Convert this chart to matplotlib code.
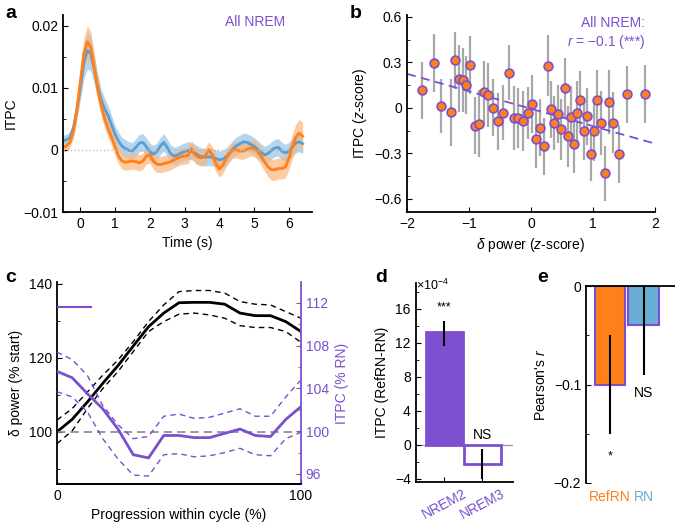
import matplotlib
matplotlib.use("Agg")
import matplotlib.pyplot as plt
import numpy as np

plt.rcParams['font.family'] = ['Liberation Sans', 'DejaVu Sans']
plt.rcParams['font.size'] = 10
plt.rcParams['mathtext.fontset'] = 'custom'
plt.rcParams['mathtext.rm'] = 'Liberation Sans'
plt.rcParams['mathtext.it'] = 'Liberation Sans:italic'
plt.rcParams['xtick.direction'] = 'in'
plt.rcParams['ytick.direction'] = 'in'
plt.rcParams['axes.linewidth'] = 1.3

PURPLE = '#7b4fd0'
ORANGE = '#ff7f1a'
BLUE = '#5b9fd2'

# ---- panel a: ITPC time course (RefRN orange, RN blue)
time_s = np.round(np.arange(-0.5, 6.45, 0.1), 1)
itpc_refrn = [0.0004, 0.0006, 0.0012, 0.0030, 0.0065,
              0.0110, 0.0155, 0.0174, 0.0165, 0.0132, 0.0098, 0.0072, 0.0050, 0.0034, 0.0020,
              0.0005, -0.0010, -0.0018, -0.0020, -0.0019, -0.0018, -0.0019, -0.0021, -0.0018, -0.0010,
              -0.0008, -0.0018, -0.0023, -0.0024, -0.0022, -0.0021, -0.0019, -0.0016, -0.0013, -0.0011,
              -0.0010, -0.0009, 0.0002, -0.0008, -0.0012, -0.0013, -0.0009, 0.0000, -0.0008, -0.0022,
              -0.0031, -0.0025, -0.0014, -0.0005, 0.0000, 0.0000, -0.0002, -0.0002, 0.0001, 0.0003,
              0.0002, -0.0003, -0.0010, -0.0019, -0.0027, -0.0032, -0.0032, -0.0030, -0.0030, -0.0028,
              -0.0015, 0.0005, 0.0020, 0.0027, 0.0022]
itpc_refrn_err = ([0.0008, 0.0008, 0.0009, 0.0012, 0.0016,
                   0.0020, 0.0024, 0.0026, 0.0025, 0.0022, 0.0019, 0.0017, 0.0016, 0.0015, 0.0014,
                   0.0014] + [0.0013] * 41 +
                  [0.0014, 0.0015, 0.0016, 0.0017, 0.0017, 0.0017, 0.0017, 0.0017,
                   0.0018, 0.0020, 0.0021, 0.0022, 0.0022])
itpc_rn = [0.0015, 0.0016, 0.0020, 0.0035, 0.0065,
           0.0100, 0.0140, 0.0160, 0.0155, 0.0130, 0.0102, 0.0080, 0.0066, 0.0055, 0.0040,
           0.0025, 0.0014, 0.0006, 0.0002, -0.0001, -0.0002, 0.0004, 0.0011, 0.0012, 0.0005,
           -0.0003, -0.0007, -0.0003, 0.0006, 0.0012, 0.0004, -0.0006, -0.0010, -0.0008, -0.0005,
           -0.0003, -0.0001, -0.0002, -0.0005, -0.0009, -0.0011, -0.0012, -0.0011, -0.0012, -0.0014,
           -0.0016, -0.0015, -0.0011, -0.0005, 0.0002, 0.0007, 0.0010, 0.0013, 0.0012, 0.0009,
           0.0006, 0.0001, -0.0004, -0.0008, -0.0006, -0.0001, 0.0003, 0.0004, -0.0002, -0.0005,
           -0.0002, 0.0004, 0.0011, 0.0013, 0.0010]
itpc_rn_err = ([0.0009, 0.0009, 0.0010, 0.0012, 0.0016,
                0.0020, 0.0026, 0.0030, 0.0028, 0.0024, 0.0020, 0.0018, 0.0017, 0.0016, 0.0015] +
               [0.0014] * 52 + [0.0016, 0.0016, 0.0016])

# ---- panel b: binned ITPC vs delta power
delta_z = [-1.752, -1.564, -1.445, -1.284, -1.230, -1.166, -1.101, -1.052, -0.988, -0.902,
           -0.832, -0.762, -0.686, -0.606, -0.525, -0.455, -0.353, -0.277, -0.202, -0.127,
           -0.056, 0.013, 0.073, 0.143, 0.207, 0.272, 0.315, 0.363, 0.433, 0.476,
           0.546, 0.589, 0.643, 0.697, 0.740, 0.789, 0.848, 0.907, 0.972, 1.020,
           1.069, 1.123, 1.198, 1.257, 1.327, 1.424, 1.548, 1.833]
itpc_z = [0.116, 0.296, 0.014, -0.028, 0.314, 0.193, 0.186, 0.151, 0.285, -0.116,
          -0.103, 0.102, 0.085, 0.003, -0.089, -0.030, 0.232, -0.067, -0.067, -0.085,
          -0.032, 0.028, -0.204, -0.129, -0.254, 0.279, -0.010, -0.100, -0.041, -0.142,
          0.131, -0.188, -0.058, -0.237, -0.032, 0.054, -0.151, -0.056, -0.303, -0.151,
          0.050, -0.098, -0.431, 0.041, -0.098, -0.303, 0.089, 0.093]
itpc_z_err = [0.19, 0.19, 0.18, 0.22, 0.19, 0.22, 0.21, 0.19, 0.19, 0.19,
              0.22, 0.21, 0.21, 0.19, 0.19, 0.18, 0.18, 0.21, 0.20, 0.20,
              0.17, 0.19, 0.19, 0.19, 0.19, 0.20, 0.19, 0.18, 0.19, 0.20,
              0.20, 0.20, 0.20, 0.19, 0.21, 0.19, 0.19, 0.19, 0.18, 0.20,
              0.20, 0.21, 0.18, 0.21, 0.20, 0.19, 0.19, 0.19]
fit_intercept = -0.005
fit_slope = -0.115

# ---- panel c: delta power and ITPC across the cycle
cycle_pct = [0, 6.25, 12.5, 18.75, 25, 31.25, 37.5, 43.75, 50,
             56.25, 62.5, 68.75, 75, 81.25, 87.5, 93.75, 100]
delta_pow = [100, 103.4, 108.1, 113.1, 117.9, 123.2, 128.4, 132.1, 134.9,
             135.0, 135.0, 134.5, 132.1, 131.4, 131.4, 129.8, 127.1]
delta_hi = [103.2, 106.3, 110.8, 115.3, 119.4, 124.4, 129.8, 134.3, 137.9,
            138.2, 138.2, 137.5, 135.2, 134.5, 134.3, 132.5, 130.7]
delta_lo = [96.8, 100.3, 106.3, 111.7, 116.3, 121.7, 127.1, 129.8, 131.8,
            132.1, 131.6, 130.7, 128.7, 128.2, 128.2, 127.1, 124.2]
itpc_rn_pct = [105.6, 105.0, 103.5, 102.1, 100.2, 97.8, 97.5, 99.6, 99.6,
               99.4, 99.4, 99.8, 100.2, 99.6, 99.5, 101.1, 102.3]
itpc_rn_hi = [107.4, 106.7, 105.2, 102.4, 100.6, 99.3, 99.5, 101.4, 101.6,
              101.2, 101.3, 101.7, 102.1, 101.4, 101.4, 103.2, 104.8]
itpc_rn_lo = [103.7, 103.2, 101.8, 99.3, 97.4, 95.9, 95.8, 97.8, 97.9,
              97.6, 97.7, 98.0, 98.4, 97.8, 97.7, 99.3, 99.9]
sig_bar_x = [0, 14]
sig_bar_y = 111.6

# ---- panel d: ITPC difference per stage (x1e-4)
stages = ['NREM2', 'NREM3']
itpc_diff = [13.25, -2.24]
itpc_diff_err = [1.45, 1.72]
diff_center = [13.1, -2.28]
stage_sig = ['***', 'NS']

# ---- panel e: Pearson r
conditions = ['RefRN', 'RN']
pearson_r = [-0.100, -0.040]
pearson_err = [0.050, 0.045]
pearson_center = [-0.100, -0.045]
cond_sig = ['*', 'NS']
cond_colors = [ORANGE, '#6aaed6']

W, H = 675, 527
fig = plt.figure(figsize=(W / 100, H / 100), dpi=100)


def box(l, r, t, b):
    return [l / W, 1 - b / H, (r - l) / W, (b - t) / H]


# a
ax = fig.add_axes(box(63, 312, 15, 212))
ax.fill_between(time_s, np.array(itpc_rn) - itpc_rn_err, np.array(itpc_rn) + itpc_rn_err,
                color='#9cc7e8', alpha=0.75, lw=0)
ax.fill_between(time_s, np.array(itpc_refrn) - itpc_refrn_err, np.array(itpc_refrn) + itpc_refrn_err,
                color='#fbb57a', alpha=0.7, lw=0)
ax.plot(time_s, itpc_rn, color=BLUE, lw=2)
ax.plot(time_s, itpc_refrn, color=ORANGE, lw=2)
ax.plot([-0.5, 6.4], [0, 0], color='#bbbbbb', ls=':', lw=1)
ax.set_xlim(-0.5, 6.67)
ax.set_ylim(-0.01, 0.0217)
ax.set_xticks(range(7))
ax.set_yticks([-0.01, 0, 0.01, 0.02])
ax.set_yticklabels(['\u22120.01', '0', '0.01', '0.02'])
ax.set_yticks([-0.005, 0.005, 0.015], minor=True)
ax.tick_params(which='minor', length=2)
ax.set_xlabel('Time (s)')
ax.set_ylabel('ITPC')
ax.spines[['top', 'right']].set_visible(False)
ax.text(0.771, 0.964, 'All NREM', color=PURPLE, transform=ax.transAxes, ha='center', va='center')

# b
ax = fig.add_axes(box(407, 655, 15, 212))
ax.errorbar(delta_z, itpc_z, yerr=itpc_z_err, fmt='none', ecolor='#a8a8a8', elinewidth=1.6, zorder=1)
ax.scatter(delta_z, itpc_z, s=40, color=ORANGE, edgecolor=PURPLE, linewidth=1.2, zorder=3)
xs = np.array([-2, 2])
ax.plot(xs, fit_intercept + fit_slope * xs, color=PURPLE, ls=(0, (5, 3)), lw=1.3, zorder=2)
ax.set_xlim(-2, 2)
ax.set_ylim(-0.686, 0.613)
ax.set_xticks([-2, -1, 0, 1, 2])
ax.set_xticklabels(['\u22122', '\u22121', '0', '1', '2'])
ax.set_yticks([-0.6, -0.3, 0, 0.3, 0.6])
ax.set_yticklabels(['\u22120.6', '\u22120.3', '0', '0.3', '0.6'])
ax.set_yticks([-0.45, -0.15, 0.15, 0.45], minor=True)
ax.tick_params(which='minor', length=2)
ax.set_xlabel(r'$\it{\delta}$ power ($\it{z}$-score)')
ax.set_ylabel(r'ITPC ($\it{z}$-score)')
ax.spines[['top', 'right']].set_visible(False)
ax.text(0.96, 0.958, 'All NREM:', color=PURPLE, transform=ax.transAxes, ha='right', va='center')
ax.text(0.96, 0.864, '$\\it{r}$ = \u22120.1 (***)', color=PURPLE,
        transform=ax.transAxes, ha='right', va='center')

# c
ax = fig.add_axes(box(57, 301, 282, 484))
ax2 = ax.twinx()
ax.plot(cycle_pct, delta_pow, color='black', lw=2)
ax.plot(cycle_pct, delta_hi, color='black', lw=1, ls=(0, (4, 3)))
ax.plot(cycle_pct, delta_lo, color='black', lw=1, ls=(0, (4, 3)))
ax.axhline(100, color='#888888', lw=1.2, ls=(0, (5, 3)))
ax2.plot(cycle_pct, itpc_rn_pct, color=PURPLE, lw=2)
ax2.plot(cycle_pct, itpc_rn_hi, color=PURPLE, lw=1, ls=(0, (4, 3)))
ax2.plot(cycle_pct, itpc_rn_lo, color=PURPLE, lw=1, ls=(0, (4, 3)))
ax2.plot(sig_bar_x, [sig_bar_y, sig_bar_y], color=PURPLE, lw=1.5)
ax.set_xlim(0, 100)
ax.set_ylim(85.9, 140.5)
ax2.set_ylim(95.06, 113.96)
ax.set_xticks([0, 100])
ax.set_yticks([100, 120, 140])
ax.set_yticks([90, 110, 130], minor=True)
ax2.set_yticks([96, 100, 104, 108, 112])
ax2.set_yticks([98, 102, 106, 110], minor=True)
ax.tick_params(which='minor', length=2)
ax2.tick_params(axis='y', which='both', colors=PURPLE)
ax2.tick_params(which='minor', length=2)
ax.set_xlabel('Progression within cycle (%)')
ax.set_ylabel('\u03b4 power (% start)')
ax2.set_ylabel('ITPC (% RN)', color=PURPLE)
for a in (ax, ax2):
    a.spines['top'].set_visible(False)
ax2.spines['right'].set_color(PURPLE)
ax2.spines['left'].set_visible(False)
ax.spines['right'].set_visible(False)

# d
ax = fig.add_axes(box(415.7, 513, 283, 482))
xd = [1, 2]
ax.bar(xd, itpc_diff, width=0.96, color=[PURPLE, 'white'], edgecolor=PURPLE, linewidth=2)
ax.errorbar(xd, diff_center, yerr=itpc_diff_err, fmt='none', ecolor='black', elinewidth=1.5)
ax.axhline(0, color='#999999', lw=0.9, zorder=0)
for x, v, s in zip(xd, [16.1, 1.1], stage_sig):
    ax.text(x, v, s, ha='center', va='center', fontsize=10 if s == 'NS' else 9)
ax.set_xlim(0.25, 2.8)
ax.set_ylim(-4.4, 19)
ax.set_yticks([-4, 0, 4, 8, 12, 16])
ax.set_yticklabels(['\u22124', '0', '4', '8', '12', '16'])
ax.set_yticks([-2, 2, 6, 10, 14, 18], minor=True)
ax.tick_params(which='minor', length=2)
ax.set_xticks(xd)
ax.set_xticklabels(stages, rotation=28, ha='center', color=PURPLE)
ax.set_ylabel('ITPC (RefRN-RN)')
ax.spines[['top', 'right']].set_visible(False)
fig.text(416.5 / W, 1 - 285 / H, r'$\times10^{-4}$', fontsize=9, va='center', ha='left')

# e
ax = fig.add_axes(box(586, 675, 286, 483))
xe = [1, 2]
ax.bar(xe, pearson_r, width=0.9, color=cond_colors, edgecolor=PURPLE, linewidth=1.5)
ax.errorbar(xe, pearson_center, yerr=pearson_err, fmt='none', ecolor='black', elinewidth=1.5)
ax.axhline(0, color='black', lw=1.3, clip_on=False)
ax.text(1, -0.173, cond_sig[0], ha='center', va='center', fontsize=9)
ax.text(2, -0.109, cond_sig[1], ha='center', va='center')
ax.set_xlim(0.28, 2.94)
ax.set_ylim(-0.2, 0)
ax.set_yticks([-0.2, -0.1, 0])
ax.set_yticklabels(['\u22120.2', '\u22120.1', '0'])
ax.set_yticks([-0.15, -0.05], minor=True)
ax.tick_params(which='minor', length=2)
ax.set_xticks(xe)
ax.set_xticklabels(conditions)
for lbl, c in zip(ax.get_xticklabels(), cond_colors):
    lbl.set_color(c)
ax.tick_params(axis='x', length=0, pad=5)
ax.set_ylabel(r"Pearson's $\it{r}$")
ax.spines[['top', 'right', 'bottom']].set_visible(False)

# panel letters
for letter, x, y in [('a', 5, 13), ('b', 350, 13), ('c', 5, 278), ('d', 375, 278), ('e', 537, 278)]:
    fig.text(x / W, 1 - y / H, letter, fontsize=14, fontweight='bold', va='center', ha='left')

fig.savefig('out.png', dpi=100)
